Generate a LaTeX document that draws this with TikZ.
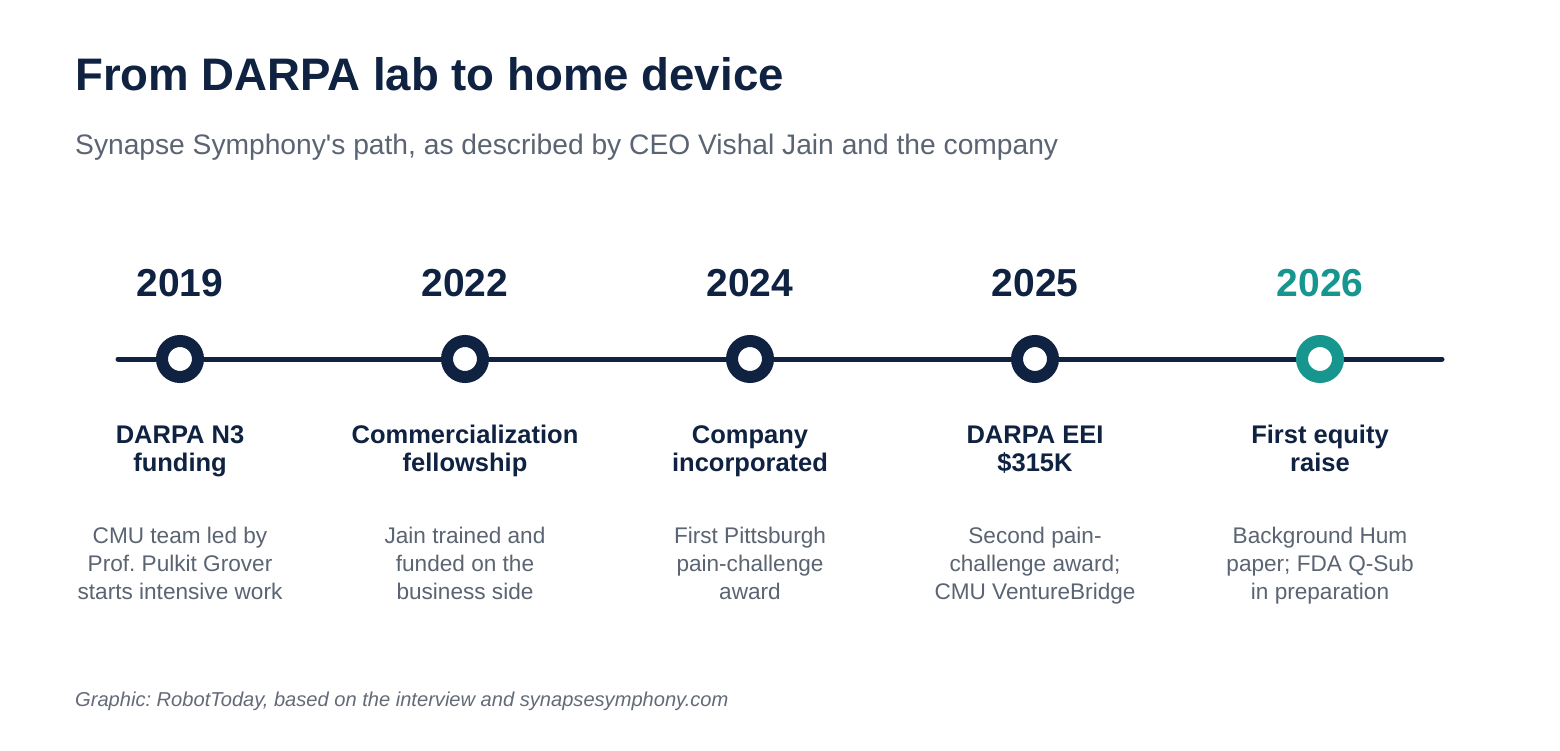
\documentclass[tikz,border=0pt]{standalone}
\usepackage{fontspec}
\setmainfont{Liberation Sans}[Ligatures=TeXOff]
\frenchspacing
\definecolor{navy}{HTML}{0F2241}
\definecolor{teal}{HTML}{16968F}
\definecolor{greytxt}{HTML}{5B6472}
\definecolor{foot}{HTML}{636B78}
\begin{document}
\begin{tikzpicture}[x=1pt,y=-1pt,
  titletxt/.style={anchor=base west,inner sep=0,text=navy,font=\fontsize{45.6}{54}\selectfont\bfseries},
  subtxt/.style={anchor=base west,inner sep=0,text=greytxt,font=\fontsize{28.2}{32}\selectfont},
  yeartxt/.style={anchor=base,inner sep=0,text=navy,font=\fontsize{39}{44}\selectfont\bfseries},
  headtxt/.style={anchor=base,inner sep=0,align=center,text=navy,font=\fontsize{25.5}{28}\selectfont\bfseries},
  desctxt/.style={anchor=base,inner sep=0,align=center,text=greytxt,font=\fontsize{22.6}{28}\selectfont},
  foottxt/.style={anchor=base west,inner sep=0,text=foot,font=\fontsize{20.1}{24}\selectfont\itshape},
  dot/.style={circle,draw=navy,line width=12pt,fill=white,minimum size=36pt,inner sep=0},
  timeline/.style={draw=navy,line width=5pt,line cap=round}]
\useasboundingbox[fill=white] (0,0) rectangle (1560,751);
\node[titletxt] (title) at (75,91) {From DARPA lab to home device};
\node[subtxt] (sub) at (75,155) {Synapse Symphony's path, as described by CEO Vishal Jain and the company};
\coordinate (ls) at (118,359);
\coordinate (le) at (1442,359);
\path[timeline] (ls) -- (le);
\node[dot] (d1) at (180,359) {};
\node[dot] (d2) at (465,359) {};
\node[dot] (d3) at (750,359) {};
\node[dot] (d4) at (1035,359) {};
\node[dot,draw=teal] (d5) at (1320,359) {};
\node[yeartxt] (y1) at (180,296) {2019};
\node[yeartxt] (y2) at (465,296) {2022};
\node[yeartxt] (y3) at (750,296) {2024};
\node[yeartxt] (y4) at (1035,296) {2025};
\node[yeartxt,text=teal] (y5) at (1320,296) {2026};
\node[headtxt] (h1) at (180,471) {DARPA N3\\funding};
\node[headtxt] (h2) at (465,471) {Commercialization\\fellowship};
\node[headtxt] (h3) at (750,471) {Company\\incorporated};
\node[headtxt] (h4) at (1035,471) {DARPA EEI\\\$315K};
\node[headtxt] (h5) at (1320,471) {First equity\\raise};
\node[desctxt] (t1) at (180,599) {CMU team led by\\Prof. Pulkit Grover\\starts intensive work};
\node[desctxt] (t2) at (465,599) {Jain trained and\\funded on the\\business side};
\node[desctxt] (t3) at (750,599) {First Pittsburgh\\pain-challenge\\award};
\node[desctxt] (t4) at (1035,599) {Second pain-\\challenge award;\\CMU VentureBridge};
\node[desctxt] (t5) at (1320,599) {Background Hum\\paper; FDA Q-Sub\\in preparation};
\node[foottxt] (foot) at (75,706) {Graphic: RobotToday, based on the interview and synapsesymphony.com};
\end{tikzpicture}
\end{document}
